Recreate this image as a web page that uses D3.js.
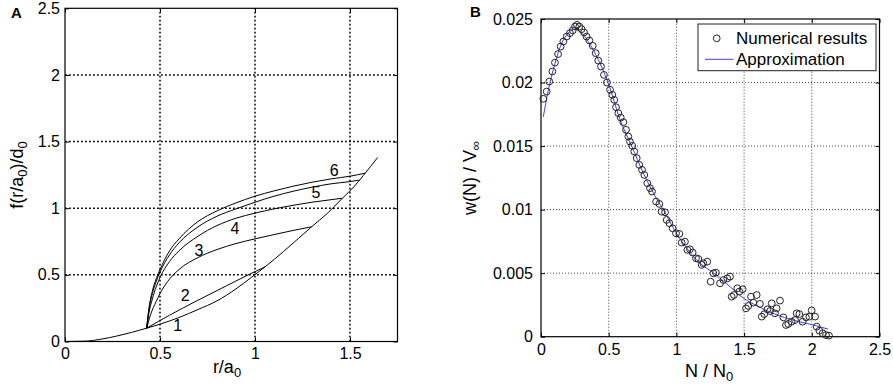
<!DOCTYPE html>
<html><head><meta charset="utf-8">
<script src="https://cdn.jsdelivr.net/npm/d3@7"></script>
<style>
body{margin:0;background:#fff;}
svg{display:block;font-family:"Liberation Sans",Arial,sans-serif;}
</style></head><body>
<svg id="c" width="893" height="388"></svg>
<script>
// ---------- Panel A data ----------
const aXTicks = [0, 0.5, 1, 1.5];
const aYTicks = [0, 0.5, 1, 1.5, 2, 2.5];
const baseX = [0, 0.1, 0.2, 0.27, 0.35, 0.43];
const baseY = [0, 0.002, 0.02, 0.04, 0.068, 0.1];
const curve1X = [0.43, 0.5, 0.6, 0.7, 0.8, 0.9, 0.98, 1.053, 1.15, 1.23, 1.298, 1.38, 1.46, 1.52, 1.57, 1.645];
const curve1Y = [0.1, 0.13, 0.18, 0.24, 0.305, 0.395, 0.48, 0.56, 0.675, 0.775, 0.861, 0.96, 1.075, 1.16, 1.245, 1.38];
const curve2X = [0.43, 0.55, 0.7, 0.85, 0.95, 1.053];
const curve2Y = [0.1, 0.197, 0.31, 0.418, 0.49, 0.56];
const curve3X = [0.43, 0.45, 0.48, 0.5, 0.54, 0.6, 0.7, 0.8, 0.9, 1.0, 1.1, 1.2, 1.298];
const curve3Y = [0.1, 0.2, 0.3, 0.36, 0.45, 0.54, 0.63, 0.69, 0.735, 0.77, 0.802, 0.833, 0.861];
const curve4X = [0.43, 0.44, 0.46, 0.48, 0.5, 0.55, 0.6, 0.7, 0.8, 0.9, 1.0, 1.1, 1.2, 1.3, 1.4, 1.46];
const curve4Y = [0.1, 0.2, 0.32, 0.41, 0.48, 0.6, 0.68, 0.79, 0.87, 0.925, 0.963, 0.995, 1.022, 1.045, 1.064, 1.075];
const curve5X = [0.43, 0.44, 0.46, 0.48, 0.5, 0.55, 0.6, 0.7, 0.8, 0.9, 1.0, 1.1, 1.2, 1.3, 1.4, 1.5, 1.55];
const curve5Y = [0.1, 0.22, 0.36, 0.45, 0.52, 0.65, 0.74, 0.86, 0.94, 0.995, 1.045, 1.09, 1.127, 1.158, 1.183, 1.2, 1.211];
const curve6X = [0.43, 0.44, 0.46, 0.48, 0.5, 0.55, 0.6, 0.7, 0.8, 0.9, 1.0, 1.1, 1.2, 1.3, 1.4, 1.5, 1.58];
const curve6Y = [0.1, 0.23, 0.38, 0.47, 0.54, 0.68, 0.77, 0.9, 0.98, 1.04, 1.09, 1.13, 1.165, 1.195, 1.22, 1.24, 1.263];
const curveLabels = ["1", "2", "3", "4", "5", "6"];
const labelX = [0.593, 0.632, 0.705, 0.895, 1.321, 1.417];
const labelY = [0.124, 0.349, 0.686, 0.851, 1.123, 1.286];

// ---------- Panel B data ----------
const bXTicks = [0, 0.5, 1, 1.5, 2, 2.5];
const bYTicks = [0, 0.005, 0.01, 0.015, 0.02, 0.025];
const bYTickLabels = ["0", "0.005", "0.01", "0.015", "0.02", "0.025"];
const numX = [0.017,0.042,0.061,0.084,0.103,0.126,0.145,0.165,0.19,0.214,0.234,0.251,0.266,0.283,0.3,0.318,0.337,0.357,0.382,0.404,0.423,0.443,0.465,0.487,0.51,0.527,0.541,0.554,0.571,0.589,0.608,0.628,0.645,0.657,0.674,0.689,0.707,0.726,0.746,0.763,0.785,0.805,0.82,
0.85,0.874,0.891,0.916,0.928,0.948,0.972,0.997,1.022,1.039,1.063,1.081,1.1,1.12,1.145,1.162,1.187,1.199,1.228,1.253,1.273,1.292,1.322,1.347,1.376,1.396,1.408,1.425,1.45,1.465,1.489,1.514,1.531,1.551,1.568,1.593,1.617,1.63,1.649,1.672,1.691,1.704,1.728,1.74,1.765,1.79,1.809,1.826,1.851,1.876,1.888,1.908,1.932,1.957,1.982,1.999,2.024,2.036,2.056,2.08,2.105,2.127];
const numY = [0.01872,0.01929,0.02008,0.02087,0.02157,0.02224,0.02283,0.02323,0.02362,0.02389,0.0241,0.02441,0.02454,0.02441,0.0242,0.02394,0.02362,0.02331,0.02289,0.02231,0.02173,0.02126,0.0206,0.02,0.01943,0.01903,0.01864,0.01806,0.01759,0.01724,0.01688,0.01628,0.01575,0.01535,0.01502,0.01457,0.01405,0.01352,0.01313,0.01273,0.01208,0.01169,0.01142,
0.01063,0.01045,0.00984,0.00979,0.00919,0.00893,0.00853,0.00814,0.00809,0.0074,0.00748,0.00683,0.00688,0.00662,0.00617,0.00612,0.00565,0.00578,0.00591,0.00433,0.00499,0.00504,0.0042,0.00446,0.00459,0.00473,0.00315,0.00328,0.00381,0.00355,0.00373,0.00223,0.00242,0.00315,0.00268,0.00328,0.00258,0.00158,0.00178,0.00215,0.00202,0.00262,0.00184,0.00223,0.00284,0.00152,0.00092,0.001,0.00118,0.00131,0.00184,0.00178,0.00118,0.00152,0.00158,0.00207,0.00158,0.00079,0.00047,0.00027,0.00013,0.00008];
const approxX = [0.017,0.054,0.103,0.153,0.202,0.239,0.276,0.325,0.374,0.436,0.497,0.583,0.67,0.756,0.818,0.866,0.903,1.0,1.15,1.3,1.4,1.5,1.6,1.7,1.8,1.9,2.0,2.12];
const approxY = [0.0173,0.0194,0.0215,0.0231,0.0239,0.0242,0.0241,0.0236,0.0228,0.0215,0.01995,0.0171,0.015,0.01287,0.01155,0.01063,0.01,0.00814,0.00604,0.0048,0.0039,0.003,0.0024,0.0019,0.0015,0.0012,0.00095,0.0006];
const legendLabels = ["Numerical results", "Approximation"];

// ---------- drawing ----------
const svg = d3.select("#c");
const zip = (xs, ys) => xs.map((x, i) => [x, ys[i]]);

function sub(textSel, parts) {
  parts.forEach(([t, s]) => {
    const ts = textSel.append("tspan").text(t);
    if (s) ts.attr("font-size", "0.72em").attr("dy", "0.3em");
    else ts.attr("dy", textSel.node().childNodes.length > 1 ? "-0.216em" : null);
  });
}

function frame(g, x, y, xt, yt, yFmt, gridStyle, pad) {
  const [x0, x1] = x.range(), [y0, y1] = y.range();
  g.append("g").selectAll("line").data(xt.filter(v => v > x.domain()[0] && v < x.domain()[1]))
    .join("line").attr("x1", d => x(d)).attr("x2", d => x(d)).attr("y1", y0).attr("y2", y1)
    .attr("stroke", gridStyle.c).attr("stroke-width", gridStyle.w).attr("stroke-dasharray", gridStyle.d);
  g.append("g").selectAll("line").data(yt.filter(v => v > y.domain()[0] && v < y.domain()[1]))
    .join("line").attr("y1", d => y(d)).attr("y2", d => y(d)).attr("x1", x0).attr("x2", x1)
    .attr("stroke", gridStyle.c).attr("stroke-width", gridStyle.w).attr("stroke-dasharray", gridStyle.d);
  const ax = g.append("g").attr("transform", `translate(0,${y0})`)
    .call(d3.axisBottom(x).tickValues(xt).tickSize(-4).tickPadding(pad.x).tickFormat(d3.format("")));
  const ay = g.append("g").attr("transform", `translate(${x0},0)`)
    .call(d3.axisLeft(y).tickValues(yt).tickSize(-4).tickPadding(pad.y).tickFormat(yFmt));
  g.append("g").attr("transform", `translate(0,${y1})`)
    .call(d3.axisTop(x).tickValues(xt).tickSize(-4).tickFormat(""));
  g.append("g").attr("transform", `translate(${x1},0)`)
    .call(d3.axisRight(y).tickValues(yt).tickSize(-4).tickFormat(""));
  g.selectAll(".domain").remove();
  g.selectAll(".tick line").attr("stroke", "#000");
  [ax, ay].forEach(a => a.selectAll("text").attr("font-size", 16).attr("font-family", "Liberation Sans, Arial, sans-serif").attr("fill", "#000"));
  g.append("rect").attr("x", x0).attr("y", y1).attr("width", x1 - x0).attr("height", y0 - y1)
    .attr("fill", "none").attr("stroke", "#000").attr("stroke-width", 1.2);
}

// ---- Panel A ----
const xA = d3.scaleLinear([0, 1.75], [65, 397.5]);
const yA = d3.scaleLinear([0, 2.5], [341.5, 8.3]);
const gA = svg.append("g");
frame(gA, xA, yA, aXTicks, aYTicks, d3.format(""), {c: "#000", w: 1.5, d: "1.8,2.2"}, {x: 6, y: 5});
const lineA = d3.line().x(d => xA(d[0])).y(d => yA(d[1])).curve(d3.curveMonotoneX);
const curvesA = [[baseX, baseY], [curve1X, curve1Y], [curve2X, curve2Y], [curve3X, curve3Y], [curve4X, curve4Y], [curve5X, curve5Y], [curve6X, curve6Y]];
gA.append("g").selectAll("path").data(curvesA).join("path")
  .attr("d", d => lineA(zip(d[0], d[1]))).attr("fill", "none").attr("stroke", "#000").attr("stroke-width", 1);
gA.append("g").selectAll("text").data(curveLabels).join("text")
  .attr("x", (d, i) => xA(labelX[i])).attr("y", (d, i) => yA(labelY[i]))
  .attr("text-anchor", "middle").attr("dy", "0.36em").attr("font-size", 16).text(d => d);
gA.append("text").attr("x", 11).attr("y", 18).attr("font-size", 15).attr("font-weight", "bold").text("A");
const xlA = gA.append("text").attr("x", 227).attr("y", 373).attr("text-anchor", "middle").attr("font-size", 18);
sub(xlA, [["r/a", false], ["0", true]]);
const ylA = gA.append("text").attr("transform", "translate(23,175) rotate(-90)").attr("text-anchor", "middle").attr("font-size", 18);
sub(ylA, [["f(r/a", false], ["0", true], [")/d", false], ["0", true]]);

// ---- Panel B ----
const xB = d3.scaleLinear([0, 2.5], [541, 879.5]);
const yB = d3.scaleLinear([0, 0.025], [336.7, 19]);
const gB = svg.append("g");
frame(gB, xB, yB, bXTicks, bYTicks, (d, i) => bYTickLabels[i], {c: "#444", w: 1, d: "1,2"}, {x: 7, y: 8});
const lineB = d3.line().x(d => xB(d[0])).y(d => yB(d[1])).curve(d3.curveMonotoneX);
gB.append("path").attr("d", lineB(zip(approxX, approxY))).attr("fill", "none").attr("stroke", "#3d3dff").attr("stroke-width", 1);
gB.append("g").selectAll("circle").data(zip(numX, numY)).join("circle")
  .attr("cx", d => xB(d[0])).attr("cy", d => yB(d[1])).attr("r", 3.4)
  .attr("fill", "none").attr("stroke", "#222").attr("stroke-width", 1);
gB.append("text").attr("x", 470).attr("y", 17).attr("font-size", 15).attr("font-weight", "bold").text("B");
const xlB = gB.append("text").attr("x", 709).attr("y", 377).attr("text-anchor", "middle").attr("font-size", 18);
sub(xlB, [["N / N", false], ["0", true]]);
const ylB = gB.append("text").attr("transform", "translate(476,178) rotate(-90)").attr("text-anchor", "middle").attr("font-size", 18);
sub(ylB, [["w(N) / V", false], ["\u221E", true]]);

// legend
const lg = gB.append("g");
lg.append("rect").attr("x", 698).attr("y", 24).attr("width", 178).attr("height", 46.7)
  .attr("fill", "#fff").attr("stroke", "#222").attr("stroke-width", 1);
lg.append("circle").attr("cx", 716.7).attr("cy", 38.3).attr("r", 3.4).attr("fill", "none").attr("stroke", "#222");
lg.append("line").attr("x1", 705).attr("x2", 733.3).attr("y1", 59.3).attr("y2", 59.3).attr("stroke", "#3d3dff").attr("stroke-width", 1);
lg.selectAll("text.l").data(legendLabels).join("text").attr("class", "l")
  .attr("x", 736).attr("y", (d, i) => 44 + i * 20.5).attr("font-size", 17).text(d => d);
</script></body></html>
